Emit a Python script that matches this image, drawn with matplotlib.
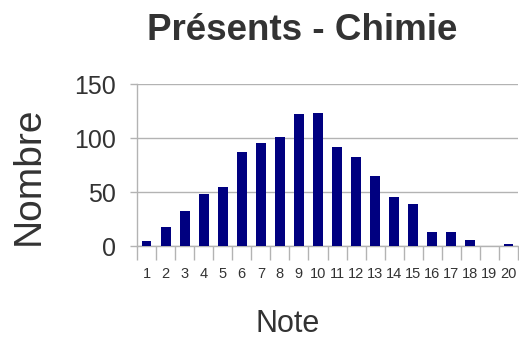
import matplotlib.pyplot as plt
import numpy as np

notes = list(range(1, 21))
counts = [5, 18, 32, 48, 55, 87, 95, 101, 122, 123,
          92, 82, 65, 45, 39, 13, 13, 6, 0, 2]
yticks = [0, 50, 100, 150]

plt.rcParams["font.family"] = ["Liberation Sans", "DejaVu Sans"]
grey = "#b3b3b3"
txt = "#333333"

fig = plt.figure(figsize=(5.19, 3.41), dpi=100)
ax = fig.add_axes([137 / 519, 1 - 246 / 341, 381 / 519, 162 / 341])

x = np.arange(len(notes))
ax.bar(x, counts, width=0.52, color="#000080", zorder=3)
ax.set_xlim(-0.5, len(notes) - 0.5)
ax.set_ylim(0, 150)

ax.set_yticks(yticks)
ax.yaxis.grid(True, color=grey, linewidth=1, zorder=0)
ax.tick_params(axis="y", labelsize=18, labelcolor=txt, color=grey,
               length=5, width=1, pad=10)

ax.set_xticks(x)
ax.set_xticklabels([str(n) for n in notes])
ax.tick_params(axis="x", which="major", length=0, labelsize=10.5,
               labelcolor=txt, pad=15)
ax.set_xticks(np.arange(-0.5, len(notes)), minor=True)
ax.tick_params(axis="x", which="minor", length=10, color=grey, width=1)

for side in ["top", "right"]:
    ax.spines[side].set_visible(False)
for side in ["left", "bottom"]:
    ax.spines[side].set_color(grey)
    ax.spines[side].set_linewidth(1)

fig.text(302 / 519, 1 - 31 / 341, "Présents - Chimie", ha="center",
         va="center", fontsize=26.5, fontweight="bold", color=txt)
fig.text(29 / 519, 1 - 176 / 341, "Nombre", ha="center", va="center",
         rotation=90, fontsize=28, color=txt)
fig.text(288 / 519, 1 - 324 / 341, "Note", ha="center", va="center",
         fontsize=22, color=txt)

fig.savefig("out.png", dpi=100)
